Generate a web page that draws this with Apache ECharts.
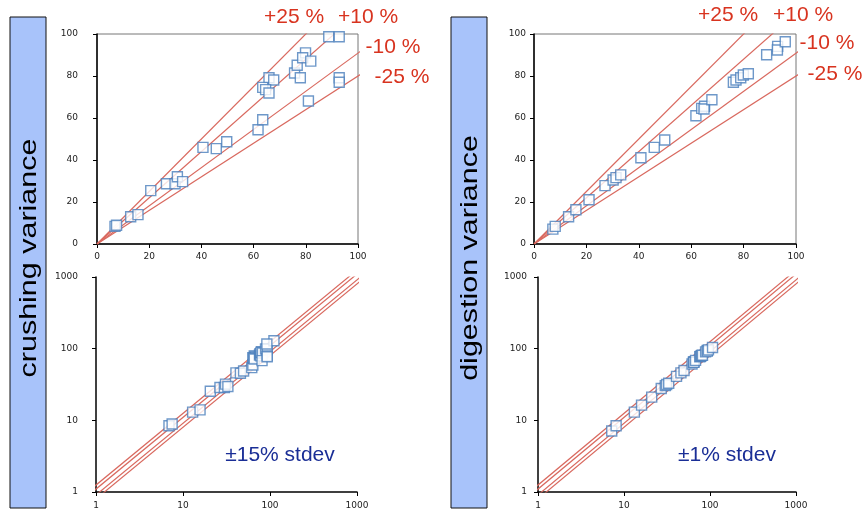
<!DOCTYPE html>
<html>
<head>
<meta charset="utf-8">
<script src="https://cdn.jsdelivr.net/npm/echarts@6/dist/echarts.min.js"></script>
<style>
html, body { margin: 0; padding: 0; background: #ffffff; }
#chart { width: 867px; height: 514px; }
</style>
</head>
<body>
<div id="chart"></div>
<script>
// Crushing variance: reference value (x) vs repeat value (y)
const crushX = [6.9, 7.5, 12.9, 15.7, 20.6, 26.6, 29.9, 30.8, 32.8, 40.6, 45.7, 49.7, 61.7, 63.5,
                65.9, 67.7, 63.5, 64.6, 65.9, 75.7, 76.7, 77.9, 79.9, 78.8, 81.9, 81.0, 88.8, 92.8,
                92.8, 92.8, 111, 92];
const crushY = [8.4, 8.9, 13.0, 14.0, 25.4, 28.7, 28.7, 32.0, 29.7, 46.0, 45.4, 48.7, 54.4, 59.2,
                79.2, 78.1, 74.6, 73.5, 71.9, 81.4, 85.1, 79.2, 91.0, 88.7, 87.1, 68.1, 98.7, 98.7,
                79.2, 77.0, 129, 116];

// Digestion variance: reference value (x) vs repeat value (y)
const digestX = [7.2, 8.1, 13.2, 16.0, 21.0, 27.1, 30.2, 31.3, 33.1, 40.8, 45.9, 49.9, 61.8, 64.0,
                 65.1, 64.9, 67.9, 76.1, 77.1, 78.9, 79.9, 81.8, 88.8, 93.0, 92.9, 95.9, 107];
const digestY = [7.1, 8.4, 13.0, 16.3, 21.1, 27.8, 30.5, 31.6, 32.9, 41.1, 46.0, 49.5, 61.1, 64.6,
                 65.6, 64.3, 68.7, 77.0, 78.1, 79.2, 80.5, 81.1, 90.1, 94.1, 92.4, 96.3, 104];

// Reference bands as multiples of y = x
const bandFactors = [1.25, 1.1, 1 / 1.1, 1 / 1.25];
const bandLabels = ['+25 %', '+10 %', '-10 %', '-25 %'];

const linRange = [0, 100];
const linStep = 20;
const logRange = [1, 1000];

const panelTitles = ['crushing variance', 'digestion variance'];
const stdevNotes = ['\u00b115% stdev', '\u00b11% stdev'];

const LINE_RED = '#d9695f';
const MARK_BLUE = '#4a7ebb';
const LABEL_RED = '#d8331f';
const NOTE_BLUE = '#1a2e96';
const TICK_FONT = { fontFamily: 'DejaVu Sans', fontSize: 9, color: '#222' };

// Plot areas: linear and log grid for each panel
const grids = [
  { left: 97, top: 34, width: 261, height: 210 },
  { left: 96, top: 277, width: 261, height: 215 },
  { left: 534, top: 34, width: 262, height: 210 },
  { left: 538, top: 277, width: 258, height: 215 }
];
const yLabelMargin = [19, 18, 8, 11];

function pairs(xs, ys) {
  return xs.map((x, i) => [x, ys[i]]);
}

function axisCommon(extra) {
  return Object.assign({
    axisLine: { show: true, onZero: false, lineStyle: { color: '#000', width: 1.5 } },
    axisTick: { show: true, inside: false, length: 4, lineStyle: { color: '#000' } },
    splitLine: { show: false },
    minorTick: { show: false }
  }, extra);
}

const xAxes = [], yAxes = [], series = [];
grids.forEach((g, gi) => {
  const isLog = gi % 2 === 1;
  const range = isLog ? logRange : linRange;
  const base = isLog ? { type: 'log', logBase: 10 } : { type: 'value', interval: linStep };
  const fmt = (v) => String(Math.round(v));
  xAxes.push(axisCommon(Object.assign({
    gridIndex: gi, min: range[0], max: range[1],
    axisLabel: Object.assign({ margin: isLog ? 9 : 8, formatter: fmt }, TICK_FONT)
  }, base)));
  yAxes.push(axisCommon(Object.assign({
    gridIndex: gi, min: range[0], max: range[1],
    axisLabel: Object.assign({ margin: yLabelMargin[gi], formatter: fmt }, TICK_FONT)
  }, base)));

  // reference lines through the origin
  bandFactors.forEach((f) => {
    const lo = isLog ? range[0] / 1.5 : 0;
    const hi = range[1] * 1.3;
    series.push({
      type: 'line', xAxisIndex: gi, yAxisIndex: gi, clip: true, silent: true,
      symbol: 'none', lineStyle: { color: LINE_RED, width: 1.2 },
      data: [[lo, lo * f], [hi, hi * f]],
      z: 2
    });
  });

  const src = gi < 2 ? pairs(crushX, crushY) : pairs(digestX, digestY);
  series.push({
    type: 'scatter', xAxisIndex: gi, yAxisIndex: gi, clip: true,
    symbol: 'rect', symbolSize: 10,
    itemStyle: { color: '#ffffff', borderColor: MARK_BLUE, borderWidth: 1.4 },
    data: src, z: 3
  });
});

const graphics = [];
// side title bars
[[10, panelTitles[0]], [451, panelTitles[1]]].forEach(([x, t]) => {
  graphics.push({
    type: 'rect', shape: { x: x, y: 17, width: 36, height: 491 },
    style: { fill: '#a8c3fa', stroke: '#111', lineWidth: 1 }
  });
  graphics.push({
    type: 'text', x: x + 19, y: 258, rotation: Math.PI / 2, scaleX: 1.27,
    style: { text: t, font: '24px "Liberation Sans"', fill: '#000', align: 'center', verticalAlign: 'middle' }
  });
});

// band labels next to each linear plot
const bandPos = [
  [[294, 17], [368, 17], [393, 47], [402, 77]],
  [[728, 15], [803, 15], [827, 43], [835, 74]]
];
bandPos.forEach((pos) => {
  pos.forEach(([x, y], i) => {
    graphics.push({
      type: 'text', x: x, y: y,
      style: { text: bandLabels[i], font: '21px "Liberation Sans"', fill: LABEL_RED, align: 'center', verticalAlign: 'middle' }
    });
  });
});

// stdev notes inside the log plots
[[280, 455, stdevNotes[0]], [727, 455, stdevNotes[1]]].forEach(([x, y, t]) => {
  graphics.push({
    type: 'text', x: x, y: y,
    style: { text: t, font: '21px "Liberation Sans"', fill: NOTE_BLUE, align: 'center', verticalAlign: 'middle' }
  });
});

const chart = echarts.init(document.getElementById('chart'), null, { renderer: 'canvas' });
chart.setOption({
  animation: false,
  backgroundColor: '#ffffff',
  // linear plots carry a grey frame, log plots only their axes
  grid: grids.map((g, gi) => Object.assign({
    show: gi % 2 === 0, borderColor: '#777', borderWidth: 1, containLabel: false
  }, g)),
  xAxis: xAxes,
  yAxis: yAxes,
  series: series,
  graphic: graphics
});
</script>
</body>
</html>
